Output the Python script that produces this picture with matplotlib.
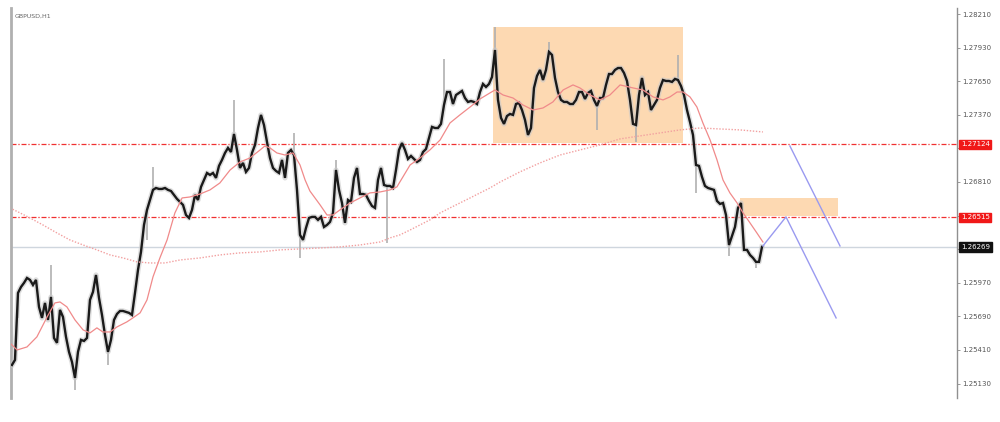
import matplotlib.pyplot as plt
from matplotlib.patches import Rectangle
from matplotlib.transforms import blended_transform_factory

# GBPUSD H1 closes, one bar per step
closes = [
    1.25285, 1.25327, 1.25885, 1.25935, 1.25969, 1.26010, 1.25994, 1.25952, 1.25994, 1.25769,
    1.25677, 1.25802, 1.25660, 1.25852, 1.25510, 1.25469, 1.25744, 1.25685, 1.25519, 1.25394,
    1.25310, 1.25177, 1.25394, 1.25494, 1.25485, 1.25510, 1.25827, 1.25894, 1.26035, 1.25844,
    1.25702, 1.25535, 1.25394, 1.25494, 1.25660, 1.25710, 1.25735, 1.25735, 1.25727, 1.25719,
    1.25702, 1.25885, 1.26077, 1.26227, 1.26452, 1.26577, 1.26660, 1.26744, 1.26760, 1.26752,
    1.26752, 1.26760, 1.26744, 1.26735, 1.26702, 1.26669, 1.26644, 1.26619, 1.26535, 1.26510,
    1.26577, 1.26702, 1.26660, 1.26769, 1.26827, 1.26885, 1.26869, 1.26885, 1.26844, 1.26944,
    1.26994, 1.27052, 1.27094, 1.27060, 1.27210, 1.27077, 1.26927, 1.26969, 1.26894, 1.26927,
    1.27052, 1.27119, 1.27260, 1.27369, 1.27285, 1.27144, 1.27010, 1.26927, 1.26902, 1.26885,
    1.26994, 1.26844, 1.27052, 1.27077, 1.27035, 1.26744, 1.26369, 1.26327, 1.26427, 1.26510,
    1.26519, 1.26519, 1.26494, 1.26519, 1.26435, 1.26452, 1.26477, 1.26552, 1.26910, 1.26744,
    1.26635, 1.26469, 1.26660, 1.26644, 1.26844, 1.26927, 1.26710, 1.26710, 1.26702, 1.26652,
    1.26610, 1.26594, 1.26827, 1.26927, 1.26785, 1.26777, 1.26777, 1.26760, 1.26910, 1.27077,
    1.27135, 1.27077, 1.27002, 1.27027, 1.27002, 1.26977, 1.26994, 1.27060, 1.27085, 1.27177,
    1.27269, 1.27260, 1.27260, 1.27294, 1.27452, 1.27560, 1.27560, 1.27460, 1.27535, 1.27552,
    1.27569, 1.27510, 1.27477, 1.27485, 1.27477, 1.27460, 1.27560, 1.27627, 1.27602, 1.27627,
    1.27685, 1.27910, 1.27494, 1.27344, 1.27294, 1.27360, 1.27377, 1.27369, 1.27460, 1.27469,
    1.27410, 1.27327, 1.27202, 1.27260, 1.27594, 1.27694, 1.27744, 1.27660, 1.27744, 1.27894,
    1.27869, 1.27677, 1.27560, 1.27494, 1.27477, 1.27477, 1.27460, 1.27460, 1.27494, 1.27560,
    1.27560, 1.27502, 1.27552, 1.27569, 1.27494, 1.27444, 1.27510, 1.27510, 1.27619, 1.27710,
    1.27710, 1.27744, 1.27760, 1.27760, 1.27719, 1.27652, 1.27494, 1.27294, 1.27285, 1.27535,
    1.27677, 1.27535, 1.27560, 1.27410, 1.27452, 1.27494, 1.27594, 1.27660, 1.27652, 1.27652,
    1.27644, 1.27669, 1.27660, 1.27610, 1.27535, 1.27410, 1.27310, 1.27202, 1.26952, 1.26944,
    1.26852, 1.26777, 1.26760, 1.26752, 1.26744, 1.26652, 1.26627, 1.26635, 1.26535, 1.26285,
    1.26360, 1.26435, 1.26594, 1.26635, 1.26244, 1.26244, 1.26202, 1.26177, 1.26144, 1.26144,
    1.26269,
]

# visible wicks (bar, extreme price)
wick_bars = [2, 13, 21, 32, 45, 47, 74, 94, 96, 108, 125, 144, 161, 179, 195, 208, 222, 228, 239, 248]
wick_vals = [1.25677, 1.26119, 1.25077, 1.25285, 1.26327, 1.26935, 1.27494, 1.27219, 1.26177, 1.26994,
             1.26302, 1.27835, 1.28102, 1.27977, 1.27244, 1.27144, 1.27869, 1.26719, 1.26194, 1.26094]

# fast moving average
ma_fast_x = [-0.7, 1.7, 5, 8.3, 11.7, 14.3, 16, 18.3, 21, 23.7, 26, 28.3, 30.3, 32.7, 35, 38.3, 40.3,
             42.7, 45, 47, 49.3, 51.7, 54.3, 56.7, 59.3, 62.7, 66, 69.3, 72.7, 76, 79.3, 82.7, 84.3,
             86, 88.3, 91, 93.7, 96, 97.7, 99.3, 102.7, 105, 107, 109.3, 112.7, 116, 119.3, 122.7,
             126, 128.3, 130.3, 132.7, 136, 139.3, 142.7, 146, 149.3, 152.7, 156, 159.3, 161, 163.7,
             167, 170.3, 173.7, 177, 180.3, 183.7, 187, 189.3, 192.7, 196, 199.3, 202.7, 207, 210.3,
             213.7, 217, 219.3, 221.7, 223.7, 226, 228.3, 230.3, 232.7, 235, 237, 239.3, 241.7,
             243.7, 246, 248.3, 250.3]
ma_fast_y = [1.25469, 1.25410, 1.25435, 1.25519, 1.25685, 1.25802, 1.25810, 1.25769, 1.25660, 1.25577,
             1.25552, 1.25594, 1.25560, 1.25560, 1.25602, 1.25644, 1.25677, 1.25719, 1.25827, 1.26019,
             1.26177, 1.26327, 1.26552, 1.26677, 1.26685, 1.26710, 1.26744, 1.26802, 1.26910, 1.26977,
             1.27010, 1.27077, 1.27110, 1.27094, 1.27052, 1.27035, 1.27052, 1.26952, 1.26827, 1.26735,
             1.26619, 1.26535, 1.26535, 1.26577, 1.26635, 1.26677, 1.26719, 1.26727, 1.26744, 1.26769,
             1.26852, 1.26952, 1.27010, 1.27077, 1.27160, 1.27302, 1.27369, 1.27435, 1.27502, 1.27552,
             1.27577, 1.27535, 1.27510, 1.27452, 1.27410, 1.27427, 1.27477, 1.27577, 1.27619, 1.27594,
             1.27535, 1.27494, 1.27535, 1.27619, 1.27594, 1.27577, 1.27519, 1.27494, 1.27519, 1.27560,
             1.27560, 1.27519, 1.27435, 1.27302, 1.27160, 1.26994, 1.26827, 1.26719, 1.26635, 1.26552,
             1.26469, 1.26385, 1.26310]

# slow moving average
ma_slow_x = [-0.7, 2.7, 6, 10.3, 15, 19.3, 23.7, 28.3, 32.7, 37, 41.7, 46, 51, 56, 62.7, 69.3, 76,
             82.7, 89.3, 96, 102.7, 109.3, 116, 122.7, 126, 129.3, 132.7, 136, 139.3, 142.7, 146,
             149.3, 152.7, 156, 159.3, 162.7, 169.3, 176, 182.7, 189.3, 196, 202.7, 209.3, 216,
             222.7, 229.3, 236, 242.7, 250.3]
ma_slow_y = [1.26594, 1.26552, 1.26510, 1.26452, 1.26385, 1.26327, 1.26285, 1.26244, 1.26202, 1.26177,
             1.26144, 1.26135, 1.26135, 1.26160, 1.26177, 1.26202, 1.26219, 1.26227, 1.26244, 1.26252,
             1.26260, 1.26269, 1.26285, 1.26310, 1.26344, 1.26369, 1.26410, 1.26452, 1.26494, 1.26552,
             1.26594, 1.26635, 1.26677, 1.26719, 1.26760, 1.26810, 1.26894, 1.26969, 1.27035, 1.27077,
             1.27119, 1.27169, 1.27194, 1.27219, 1.27244, 1.27260, 1.27252, 1.27244, 1.27227]

# drawn objects
levels = [1.27124, 1.26515]
last_price = 1.26269
zone1 = (160.3, 223.7, 1.27135, 1.28102)
zone2 = (242.7, 275.3, 1.26527, 1.26677)
path1_x = [250.3, 258, 274.7]
path1_y = [1.26277, 1.26519, 1.25677]
path2_x = [259.3, 276]
path2_y = [1.27110, 1.26277]

price_ticks = [1.28210, 1.27930, 1.27650, 1.27370, 1.27090, 1.26810, 1.26530,
               1.26250, 1.25970, 1.25690, 1.25410, 1.25130]
hidden_ticks = [1.27090, 1.26530, 1.26250]  # covered by the price boxes

fig = plt.figure(figsize=(10, 4.22), dpi=100)
ax = fig.add_axes([0.011, 0.057, 0.946, 0.924])

for x0, x1, y0, y1 in (zone1, zone2):
    ax.add_patch(Rectangle((x0, y0), x1 - x0, y1 - y0, color='#fdd9b2', lw=0, zorder=1))

for lv in levels:
    ax.axhline(lv, color='#f03030', lw=0.9, ls=(0, (4, 1.5, 1, 1.5)), zorder=2)
ax.axhline(last_price, color='#cfd6de', lw=1.0, zorder=2)

xs = list(range(len(closes)))
ax.vlines(wick_bars, [closes[i] for i in wick_bars], wick_vals, color='#b0b0b0', lw=1.2, zorder=3)
ax.plot(xs, closes, color='#c8c8c8', lw=3.8, alpha=0.6, zorder=3)
ax.plot(xs, closes, color='#1a1a1a', lw=1.7, zorder=4, solid_joinstyle='miter')

ax.plot(ma_fast_x, ma_fast_y, color='#f08a8a', lw=0.9, zorder=5)
ax.plot(ma_slow_x, ma_slow_y, color='#f2a0a0', lw=1.0, ls=(0, (1, 1.2)), zorder=5)

ax.plot(path1_x, path1_y, color='#9a9af0', lw=1.0, zorder=5)
ax.plot(path2_x, path2_y, color='#9a9af0', lw=1.0, zorder=5)

ax.set_xlim(-0.33, 315)
ax.set_ylim(1.25010, 1.28260)
ax.set_xticks([])
ax.yaxis.tick_right()
ax.set_yticks(price_ticks)
ax.set_yticklabels(['' if t in hidden_ticks else f'{t:.5f}' for t in price_ticks])
ax.tick_params(axis='y', labelsize=5, colors='#888888', labelcolor='#555555', length=2, width=0.6, pad=2)
for s in ('top', 'bottom'):
    ax.spines[s].set_visible(False)
ax.spines['left'].set_color('#b0b0b0')
ax.spines['left'].set_linewidth(2)
ax.spines['right'].set_color('#909090')
ax.spines['right'].set_linewidth(1)

tr = blended_transform_factory(ax.transAxes, ax.transData)
for val, bg in ((1.27124, '#f01818'), (1.26515, '#f01818'), (last_price, '#111111')):
    ax.text(1.004, val, f'{val:.5f}', transform=tr, fontsize=5, color='white', va='center', ha='left',
            clip_on=False, zorder=10,
            bbox=dict(boxstyle='square,pad=0.25', fc=bg, ec=bg))

ax.text(0.004, 0.985, 'GBPUSD,H1', transform=ax.transAxes, fontsize=4.5, color='#666666', va='top', ha='left')

fig.savefig('out.png', dpi=100, facecolor='white')
